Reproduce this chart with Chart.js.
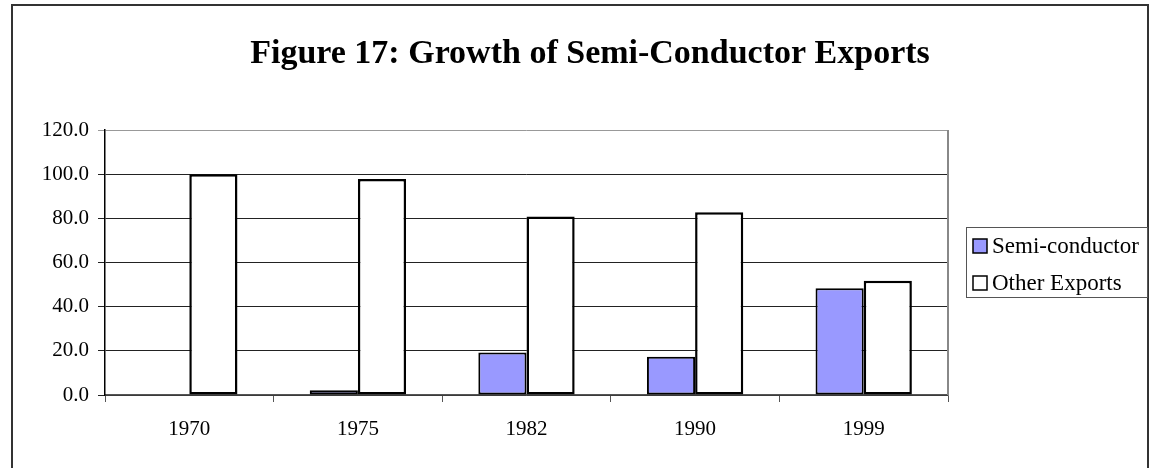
<!DOCTYPE html>
<html>
<head>
<meta charset="utf-8">
<title>Figure 17</title>
<script src="https://cdn.jsdelivr.net/npm/chart.js@4/dist/chart.umd.min.js"></script>
<style>
  html, body { margin: 0; padding: 0; background: #fff; }
  canvas { display: block; }
</style>
</head>
<body>
<canvas id="exportsChart" width="1151" height="468"></canvas>
<script>
// data (share of exports, %)
const years        = ['1970', '1975', '1982', '1990', '1999'];
const semiShare    = [0, 2.2, 19.2, 17.3, 48.3];
const otherShare   = [100, 97.8, 80.8, 82.7, 51.7];
const seriesLabels = ['Semi-conductor', 'Other Exports'];
const yTicks       = [0, 20, 40, 60, 80, 100, 120];
const chartTitle   = 'Figure 17: Growth of Semi-Conductor Exports';

const serif = "'Liberation Serif', 'Times New Roman', serif";

// frame, title and the boxed legend on the right
const decorations = {
  id: 'decorations',
  beforeDraw(chart) {
    const ctx = chart.ctx;
    ctx.save();
    ctx.fillStyle = '#fff';
    ctx.fillRect(0, 0, chart.width, chart.height);
    ctx.restore();
  },
  afterDraw(chart) {
    const ctx = chart.ctx;
    const area = chart.chartArea;
    ctx.save();

    // outer frame
    ctx.strokeStyle = '#333';
    ctx.lineWidth = 2;
    ctx.strokeRect(12, 5, 1136, 480);

    // right edge of plot area
    ctx.strokeStyle = '#888';
    ctx.lineWidth = 2;
    ctx.beginPath();
    ctx.moveTo(area.right, area.top);
    ctx.lineTo(area.right, area.bottom);
    ctx.stroke();

    // title
    ctx.fillStyle = '#000';
    ctx.font = `bold 34px ${serif}`;
    ctx.textAlign = 'center';
    ctx.textBaseline = 'alphabetic';
    ctx.fillText(chartTitle, 590, 63);

    // legend
    ctx.strokeStyle = '#555';
    ctx.lineWidth = 1;
    ctx.strokeRect(966.5, 227.5, 181, 70);
    ctx.font = `23px ${serif}`;
    ctx.textAlign = 'left';
    ctx.textBaseline = 'middle';
    const rows = [246, 283];
    chart.data.datasets.forEach((ds, i) => {
      const y = rows[i];
      ctx.fillStyle = ds.backgroundColor;
      ctx.fillRect(973, y - 7, 14, 14);
      ctx.strokeStyle = '#000';
      ctx.lineWidth = 1.5;
      ctx.strokeRect(973, y - 7, 14, 14);
      ctx.fillStyle = '#000';
      ctx.fillText(ds.label, 992, y + 1);
    });
    ctx.restore();
  }
};

new Chart(document.getElementById('exportsChart').getContext('2d'), {
  type: 'bar',
  data: {
    labels: years,
    datasets: [
      {
        label: seriesLabels[0],
        data: semiShare,
        backgroundColor: '#9999FF',
        borderColor: '#000',
        borderWidth: 2,
        borderSkipped: false
      },
      {
        label: seriesLabels[1],
        data: otherShare,
        backgroundColor: '#FFFFFF',
        borderColor: '#000',
        borderWidth: 2.5,
        borderSkipped: false
      }
    ]
  },
  options: {
    responsive: false,
    animation: false,
    datasets: { bar: { categoryPercentage: 2 / 3.5, barPercentage: 1 } },
    layout: { padding: { left: 5, top: 130, right: 203, bottom: 25 } },
    scales: {
      x: {
        offset: true,
        grid: {
          offset: true,
          drawOnChartArea: false,
          drawTicks: true,
          tickLength: 7,
          color: '#555'
        },
        border: { display: true, color: '#555', width: 1.5 },
        ticks: {
          color: '#000',
          font: { family: serif, size: 21 },
          padding: 15,
          maxRotation: 0
        },
        afterFit: s => { s.height = 48; }
      },
      y: {
        min: 0,
        max: 120,
        afterBuildTicks: s => { s.ticks = yTicks.map(v => ({ value: v })); },
        grid: {
          color: ctx => (ctx.tick && ctx.tick.value === 120 ? '#999' : '#222'),
          lineWidth: 1,
          tickLength: 7
        },
        border: { display: true, color: '#000', width: 1.5 },
        ticks: {
          color: '#000',
          font: { family: serif, size: 21 },
          padding: 9,
          callback: v => Number(v).toFixed(1)
        },
        afterFit: s => { s.width = 100; }
      }
    },
    plugins: {
      legend: { display: false },
      title: { display: false },
      tooltip: { enabled: false }
    }
  },
  plugins: [decorations]
});
</script>
</body>
</html>
